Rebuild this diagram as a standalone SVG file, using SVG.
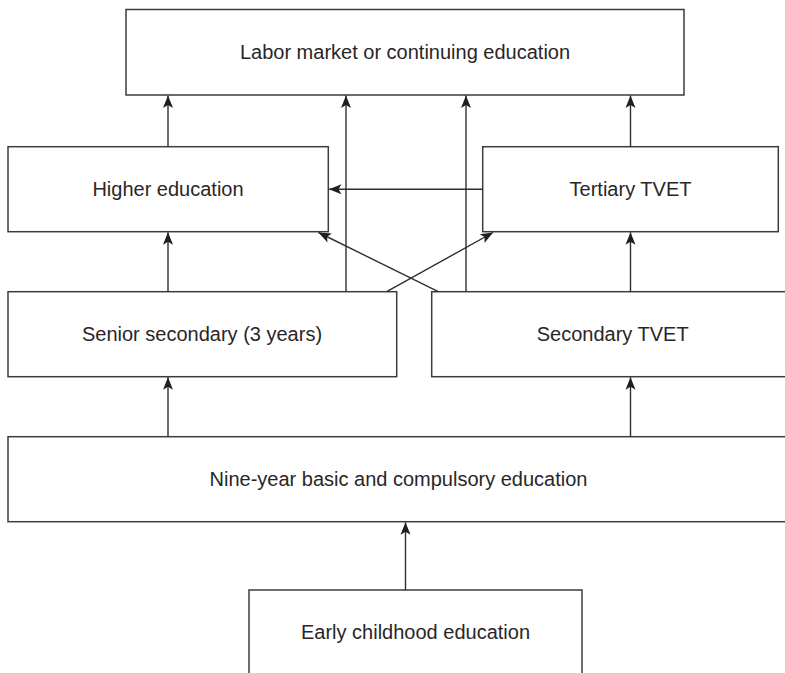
<svg xmlns="http://www.w3.org/2000/svg" width="785" height="673" viewBox="0 0 785 673">
<style>
.box{fill:#fff;stroke:#3c3c3c;stroke-width:1.5}
.lbl{font-family:"Liberation Sans",Arial,sans-serif;font-size:20px;fill:#2a2627;text-anchor:middle}
.con{stroke:#2f2f2f;stroke-width:1.4;fill:none}
</style>
<defs>
<marker id="ah" markerUnits="userSpaceOnUse" markerWidth="16" markerHeight="14" viewBox="-14 -7 16 14" refX="0" refY="0" orient="auto">
<path d="M0,0 L-12.5,-5 L-9.5,0 L-12.5,5 Z" fill="#1e1e1e"/>
</marker>
</defs>
<rect width="785" height="673" fill="#fff"/>
<g id="labor">
<rect class="box" x="126" y="9.5" width="558" height="85.5"/>
<text class="lbl" x="405" y="59">Labor market or continuing education</text>
</g>
<g id="higher">
<rect class="box" x="8" y="146.7" width="320.3" height="85"/>
<text class="lbl" x="168" y="196">Higher education</text>
</g>
<g id="tertiary">
<rect class="box" x="482.7" y="146.7" width="295.6" height="85"/>
<text class="lbl" x="630.5" y="196">Tertiary TVET</text>
</g>
<g id="senior">
<rect class="box" x="8" y="291.7" width="388.7" height="85"/>
<text class="lbl" x="202" y="341">Senior secondary (3 years)</text>
</g>
<g id="sectvet">
<rect class="box" x="431.7" y="291.7" width="362" height="85"/>
<text class="lbl" x="612.7" y="341">Secondary TVET</text>
</g>
<g id="nineyear">
<rect class="box" x="8" y="436.7" width="781" height="85"/>
<text class="lbl" x="398.5" y="486">Nine-year basic and compulsory education</text>
</g>
<g id="early">
<rect class="box" x="249" y="590" width="333" height="90"/>
<text class="lbl" x="415.5" y="639">Early childhood education</text>
</g>
<g id="connectors">
<line class="con" x1="168" y1="146.7" x2="168" y2="95.5" marker-end="url(#ah)"/>
<line class="con" x1="346" y1="291.7" x2="346" y2="95.5" marker-end="url(#ah)"/>
<line class="con" x1="466" y1="291.7" x2="466" y2="95.5" marker-end="url(#ah)"/>
<line class="con" x1="630.5" y1="146.7" x2="630.5" y2="95.5" marker-end="url(#ah)"/>
<line class="con" x1="482.7" y1="189.3" x2="329" y2="189.3" marker-end="url(#ah)"/>
<line class="con" x1="386.7" y1="291.7" x2="493" y2="232.5" marker-end="url(#ah)"/>
<line class="con" x1="438.3" y1="291.7" x2="318.5" y2="232.5" marker-end="url(#ah)"/>
<line class="con" x1="168" y1="291.7" x2="168" y2="232.3" marker-end="url(#ah)"/>
<line class="con" x1="630.5" y1="291.7" x2="630.5" y2="232.3" marker-end="url(#ah)"/>
<line class="con" x1="168" y1="436.7" x2="168" y2="377.3" marker-end="url(#ah)"/>
<line class="con" x1="630.5" y1="436.7" x2="630.5" y2="377.3" marker-end="url(#ah)"/>
<line class="con" x1="405.5" y1="590" x2="405.5" y2="522.3" marker-end="url(#ah)"/>
</g>
</svg>
